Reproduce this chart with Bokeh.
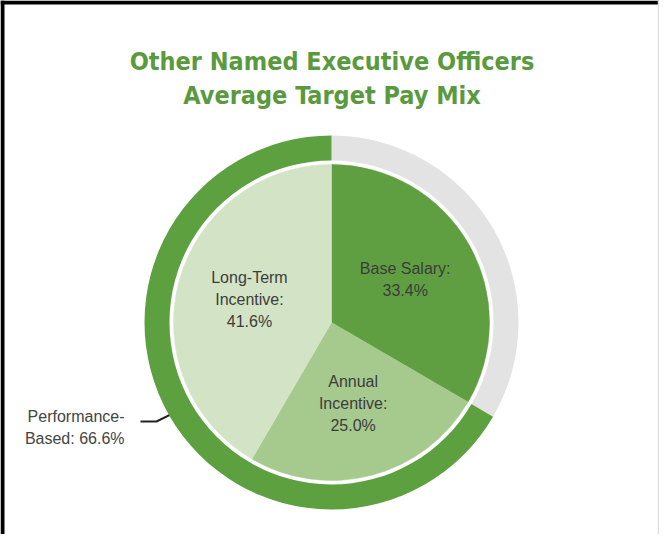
import math
from bokeh.plotting import figure
from bokeh.models import Range1d, ColumnDataSource, Label
from bokeh.core.properties import value
from bokeh.embed import file_html
from bokeh.resources import INLINE

# ---- data ----
title_lines = ["Other Named Executive Officers", "Average Target Pay Mix"]
categories = ["Base Salary", "Annual Incentive", "Long-Term Incentive"]
shares = [33.4, 25.0, 41.6]
slice_labels = ["Base Salary:\n33.4%", "Annual\nIncentive:\n25.0%", "Long-Term\nIncentive:\n41.6%"]
slice_colors = ["#5f9f41", "#a6c98e", "#d3e4c6"]
ring_groups = ["Fixed", "Performance-Based"]
ring_shares = [33.4, 66.6]
ring_colors = ["#e3e3e3", "#5da03f"]
ring_label = "Performance-\nBased: 66.6%"

W, H = 659, 534
p = figure(width=W, height=H, output_backend="svg", toolbar_location=None,
           x_range=Range1d(0, W), y_range=Range1d(0, H), min_border=0)
p.axis.visible = False
p.grid.visible = False
p.outline_line_color = None
p.background_fill_color = "white"
p.border_fill_color = "white"

cx, cy = 331, 212
R_pie, R_in, R_out = 158, 162, 187

def wedges(vals):
    starts, ends = [], []
    a = math.pi / 2
    tot = sum(vals)
    for v in vals:
        s = a
        e = a - 2 * math.pi * v / tot
        starts.append(e)
        ends.append(s)
        a = e
    return starts, ends

# frame
p.line([2, 2], [0, 534], line_color="black", line_width=4)
p.line([0, 659], [532, 532], line_color="black", line_width=4)
p.line([658, 658], [0, 534], line_color="#dddddd", line_width=1.5)

# leader line for performance-based
rs, re = wedges(ring_shares)
mid = (rs[1] + re[1]) / 2
lx0 = cx + 180 * math.cos(mid)
ly0 = cy + 180 * math.sin(mid)
p.line([lx0, 156, 140], [ly0, 113, 113], line_color="#222222", line_width=2)

# ring
rsrc = ColumnDataSource(dict(start=rs, end=re, color=ring_colors, name=ring_groups))
p.annular_wedge(x=cx, y=cy, inner_radius=R_in, outer_radius=R_out,
                start_angle="start", end_angle="end", fill_color="color",
                line_color=None, source=rsrc)

# pie
ps, pe = wedges(shares)
psrc = ColumnDataSource(dict(start=ps, end=pe, color=slice_colors, name=categories))
p.wedge(x=cx, y=cy, radius=R_pie, start_angle="start", end_angle="end",
        fill_color="color", line_color="color", line_width=0.5, source=psrc)

# slice labels
lx, ly = [], []
for s, e in zip(ps, pe):
    m = (s + e) / 2
    lx.append(cx + 85 * math.cos(m))
    ly.append(cy + 1 + 85 * math.sin(m))
lsrc = ColumnDataSource(dict(x=lx, y=ly, t=slice_labels))
p.text(x="x", y="y", text="t", source=lsrc, text_align="center",
       text_baseline="middle", text_font=value("Liberation Sans"),
       text_font_size="16px", text_color="#3c3c3c", text_line_height=1.3)

p.add_layout(Label(x=124, y=107, text=ring_label, text_align="right",
                   text_baseline="middle", text_font="Liberation Sans",
                   text_font_size="16px", text_color="#444444",
                   text_line_height=1.3))

# title
tsrc = ColumnDataSource(dict(x=[331.5, 331.5], y=[473, 439], t=title_lines))
p.text(x="x", y="y", text="t", source=tsrc, text_align="center",
       text_baseline="alphabetic", text_font=value("DejaVu Sans Condensed"),
       text_font_style="bold", text_font_size="25px", text_color="#5a9a3e")

open("out.html", "w").write(file_html(p, INLINE))
